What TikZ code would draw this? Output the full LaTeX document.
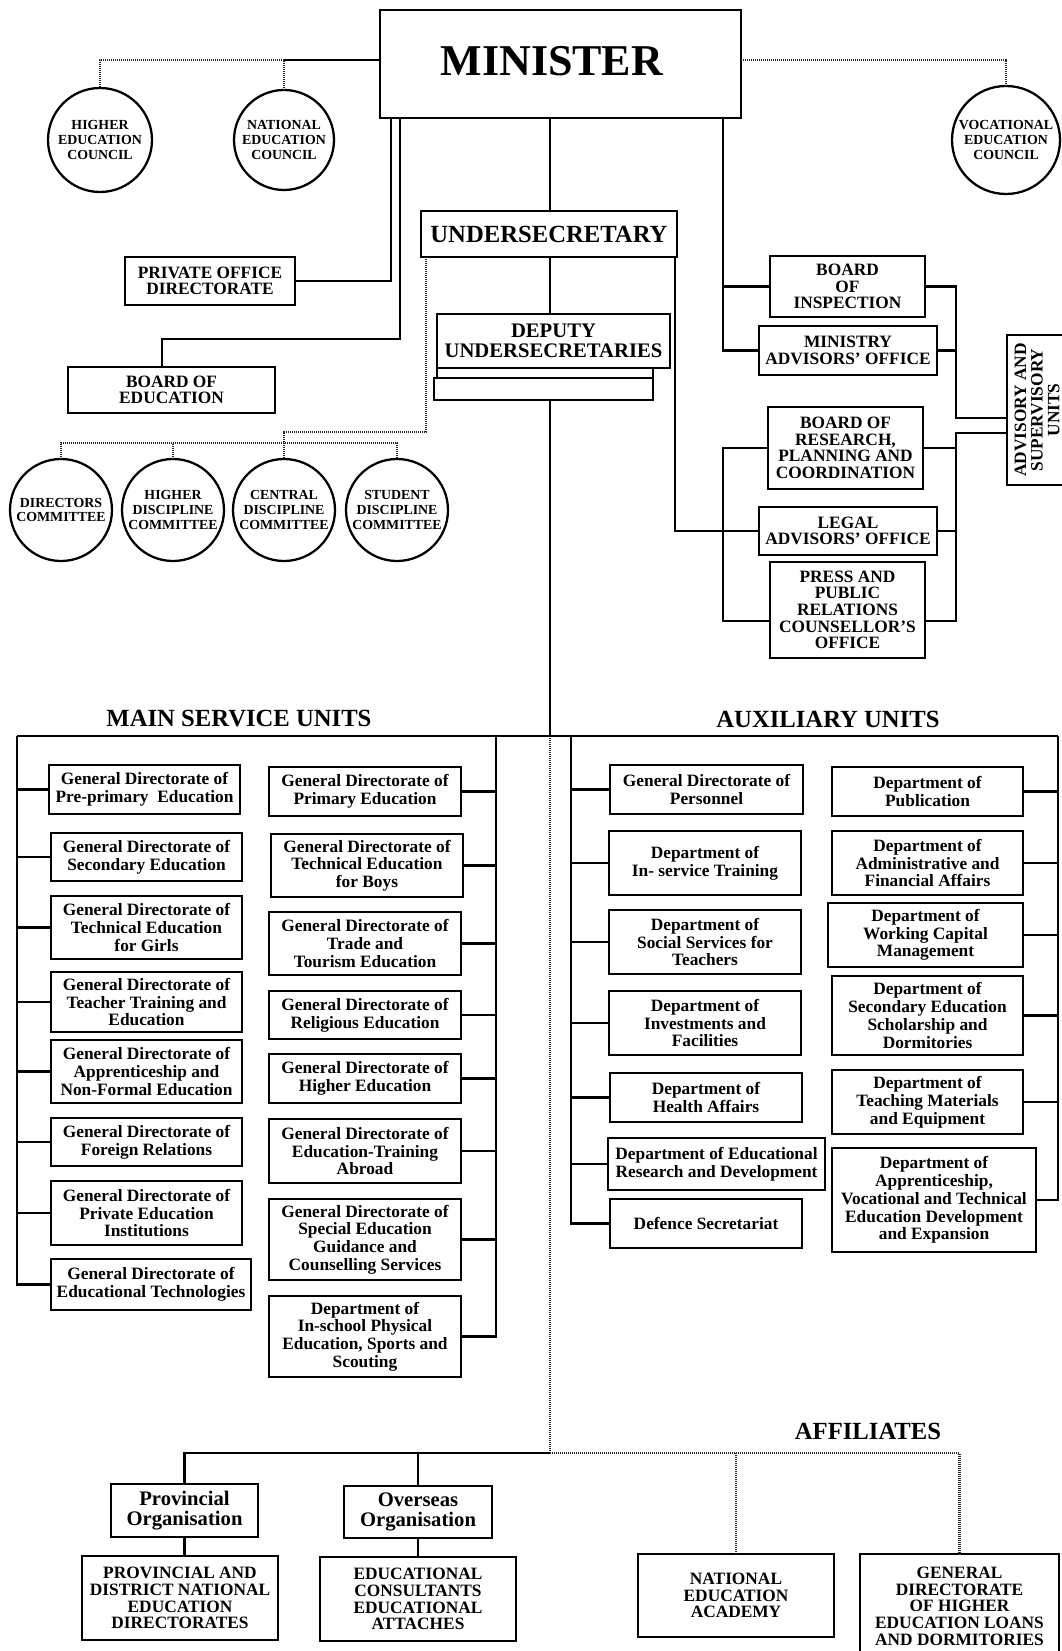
\documentclass[tikz,border=0pt]{standalone}
\usepackage{fontspec}
\setmainfont{Liberation Serif}
\newcommand\B[7][]{\node[box,#1,minimum width={(#5-#3)*0.75pt},minimum height={(#6-#4)*0.75pt}] (#2) at ({(#3+#5)/2},{(#4+#6)/2}) {#7};}
\newcommand\CircNode[5]{\node[circ,minimum size={2*#4*0.75pt}] (#1) at (#2,#3) {#5};}
\begin{document}
\begin{tikzpicture}[x=0.75pt,y=-0.75pt,
  box/.style={draw,line width=2.1pt,inner sep=0pt,outer sep=0pt,align=center,font=\bfseries\fontsize{13}{13.3}\selectfont},
  capbox/.style={font=\bfseries\fontsize{13}{12.5}\selectfont},
  circ/.style={draw,circle,line width=1.7pt,inner sep=0pt,outer sep=0pt,align=center,font=\bfseries\fontsize{10.4}{11}\selectfont},
  head/.style={font=\bfseries\fontsize{18.5}{20}\selectfont,inner sep=0pt},
  conn/.style={line width=1.7pt},
  dotl/.style={line width=1.8pt,dash pattern=on 0.8pt off 0.7pt,black!85}]
\useasboundingbox (0,0) rectangle (1062,1651);

% ---------- top ----------
\B[font=\bfseries\fontsize{33}{36}\selectfont]{minister}{380}{10}{741}{118}{\raisebox{4.5pt}{\hspace*{-13pt}MINISTER}}
\B[font=\bfseries\fontsize{18.5}{20}\selectfont]{under}{421}{211}{677}{257}{UNDERSECRETARY}
\B[font=\bfseries\fontsize{15.5}{15}\selectfont]{deputy}{437}{314}{670}{368}{DEPUTY\\UNDERSECRETARIES}
\B{deps1}{437}{368}{653}{378}{}
\B{deps2}{434}{378}{653}{400}{}

\CircNode{highedu}{100}{140}{52}{HIGHER\\EDUCATION\\COUNCIL}
\CircNode{natedu}{284}{140}{50}{NATIONAL\\EDUCATION\\COUNCIL}
\CircNode{voc}{1006}{140}{54}{VOCATIONAL\\EDUCATION\\COUNCIL}

\B[capbox]{privoff}{125}{257}{295}{305}{PRIVATE OFFICE\\DIRECTORATE}
\B[capbox]{boardedu}{68}{367}{275}{413}{BOARD OF\\EDUCATION}

\CircNode{directors}{61}{510}{51}{DIRECTORS\\COMMITTEE}
\CircNode{higherd}{173}{510}{51}{HIGHER\\DISCIPLINE\\COMMITTEE}
\CircNode{central}{284}{510}{51}{CENTRAL\\DISCIPLINE\\COMMITTEE}
\CircNode{student}{397}{510}{51}{STUDENT\\DISCIPLINE\\COMMITTEE}

% right group
\B[capbox]{binsp}{770}{256}{925}{317}{BOARD\\OF\\INSPECTION}
\B[capbox]{madv}{759}{326}{937}{375}{MINISTRY\\ADVISORS' OFFICE}
\B[capbox]{bres}{768}{407}{923}{489}{BOARD OF\\RESEARCH,\\PLANNING AND\\COORDINATION}
\B[capbox]{legal}{759}{507}{937}{555}{LEGAL\\ADVISORS' OFFICE}
\B[capbox]{press}{770}{562}{925}{658}{PRESS AND\\PUBLIC\\RELATIONS\\COUNSELLOR'S\\OFFICE}
\node[box,capbox,rotate=90,minimum width={150*0.75pt},minimum height={60*0.75pt}] (advisory) at (1037,410) {ADVISORY AND\\SUPERVISORY\\UNITS};

% headings
\node[head] (hmain) at (239,719) {MAIN SERVICE UNITS};
\node[head] (haux) at (828,719) {AUXILIARY UNITS};
\node[head] (haff) at (868,1431) {AFFILIATES};

% ---------- main service units ----------
\B{pre}{49}{765}{240}{814}{General Directorate of\\Pre-primary\ \ Education}
\B{sec}{51}{833}{242}{881}{General Directorate of\\Secondary Education}
\B{techg}{51}{896}{242}{959}{General Directorate of\\Technical Education\\for Girls}
\B{teach}{51}{972}{242}{1032}{General Directorate of\\Teacher Training and\\Education}
\B{appr}{51}{1040}{242}{1103}{General Directorate of\\Apprenticeship and\\Non-Formal Education}
\B{foreign}{51}{1118}{242}{1166}{General Directorate of\\Foreign Relations}
\B{privedu}{51}{1181}{242}{1245}{General Directorate of\\Private Education\\Institutions}
\B{edtech}{51}{1259}{251}{1310}{General Directorate of\\Educational Technologies}

\B{prim}{269}{767}{461}{816}{General Directorate of\\Primary Education}
\B{techb}{271}{834}{463}{897}{General Directorate of\\Technical Education\\for Boys}
\B{trade}{269}{912}{461}{975}{General Directorate of\\Trade and\\Tourism Education}
\B{relig}{269}{991}{461}{1039}{General Directorate of\\Religious Education}
\B{higher}{269}{1054}{461}{1103}{General Directorate of\\Higher Education}
\B{abroad}{269}{1119}{461}{1183}{General Directorate of\\Education-Training\\Abroad}
\B{special}{269}{1199}{461}{1280}{General Directorate of\\Special Education\\Guidance and\\Counselling Services}
\B{phys}{269}{1296}{461}{1377}{Department of\\In-school Physical\\Education, Sports and\\Scouting}

% ---------- auxiliary units ----------
\B{pers}{610}{765}{803}{814}{General Directorate of\\Personnel}
\B{inserv}{609}{831}{801}{895}{Department of\\In- service Training}
\B{social}{609}{910}{801}{974}{Department of\\Social Services for\\Teachers}
\B{invest}{609}{991}{801}{1055}{Department of\\Investments and\\Facilities}
\B{health}{610}{1073}{802}{1122}{Department of\\Health Affairs}
\B{edres}{608}{1138}{825}{1190}{Department of Educational\\Research and Development}
\B{defence}{610}{1199}{802}{1248}{Defence Secretariat}

\B{publ}{832}{767}{1023}{816}{Department of\\Publication}
\B{admin}{832}{831}{1023}{895}{Department of\\Administrative and\\Financial Affairs}
\B{workcap}{828}{903}{1023}{967}{Department of\\Working Capital\\Management}
\B{scholar}{832}{976}{1023}{1055}{Department of\\Secondary Education\\Scholarship and\\Dormitories}
\B{teachmat}{832}{1070}{1023}{1134}{Department of\\Teaching Materials\\and Equipment}
\B{appdev}{832}{1148}{1036}{1252}{Department of\\Apprenticeship,\\Vocational and Technical\\Education Development\\and Expansion}

% ---------- bottom ----------
\B[font=\bfseries\fontsize{15.5}{15.5}\selectfont]{prov}{111}{1484}{258}{1537}{Provincial\\Organisation}
\B[font=\bfseries\fontsize{15.5}{15.5}\selectfont]{over}{344}{1486}{492}{1538}{Overseas\\Organisation}
\B[capbox]{provd}{82}{1556}{278}{1640}{PROVINCIAL AND\\DISTRICT NATIONAL\\EDUCATION\\DIRECTORATES}
\B[capbox]{edcons}{320}{1557}{516}{1641}{EDUCATIONAL\\CONSULTANTS\\EDUCATIONAL\\ATTACHES}
\B[capbox]{academy}{638}{1554}{834}{1637}{NATIONAL\\EDUCATION\\ACADEMY}
\B[capbox]{loans}{860}{1554}{1059}{1658}{GENERAL\\DIRECTORATE\\OF HIGHER\\EDUCATION LOANS\\AND DORMITORIES}

% ---------- connectors: top ----------
\coordinate (mw) at ([yshift=3pt]minister.west);
\coordinate (me) at ([yshift=3pt]minister.east);
\draw[conn] (mw) -- (mw -| natedu.north);
\draw[dotl] (natedu.north) -- (mw -| natedu.north) -- (mw -| highedu.north) -- (highedu.north);
\draw[dotl] (me) -| (voc.north);

\draw[conn] (minister.south -| 391,0) |- (privoff.east);
\draw[conn] (minister.south -| 400,0) -- (400,339) -| (boardedu.north -| 162,0);

\draw[conn] (minister.south -| 550,0) -- (under.north -| 550,0);
\draw[conn] (under.south -| 550,0) -- (deputy.north -| 550,0);
\draw[conn] (deps2.south -| 550,0) -- (550,736) coordinate (tj);
\draw[dotl] (tj) -- (550,1453) coordinate (bj);

% undersecretary -> committees
\draw[dotl] (under.south -| 426,0) -- (426,432) -- (central.north |- 0,432) -- (central.north);
\draw[dotl] (directors.north) -- (directors.north |- 0,443) -- (student.north |- 0,443) -- (student.north);
\draw[dotl] (higherd.north) -- (higherd.north |- 0,443);

% right group
\draw[conn] (minister.south -| 723,0) |- (madv.west);
\draw[conn] (binsp.west) -- (binsp.west -| 723,0);
\draw[conn] (binsp.east) -| (956,418) -- (advisory.north |- 0,418);
\draw[conn] (madv.east) -- (madv.east -| 956,0);
\draw[conn] (advisory.north |- 0,433) -- (956,433) |- ([yshift=-8pt]press.east);
\draw[conn] (bres.east) -- (bres.east -| 956,0);
\draw[conn] (legal.east) -- (legal.east -| 956,0);
\draw[conn] (bres.west) -- (bres.west -| 723,0) |- ([yshift=-8pt]press.west);
\draw[conn] (under.south -| 675,0) |- (legal.west);

% ---------- connectors: units ----------
\draw[conn] (17,736) coordinate (ml) -- (1058,736) coordinate (ar);
\coordinate (mr) at (496,736);
\coordinate (al) at (571,736);
\draw[conn] (ml) |- (edtech.west);
\foreach \n in {pre,sec,techg,teach,appr,foreign,privedu}
  \draw[conn] (\n.west) -- (\n.west -| ml);
\draw[conn] (mr) |- (phys.east);
\foreach \n in {prim,techb,trade,relig,higher,abroad,special}
  \draw[conn] (\n.east) -- (\n.east -| mr);
\draw[conn] (al) |- (defence.west);
\foreach \n in {pers,inserv,social,invest,health,edres}
  \draw[conn] (\n.west) -- (\n.west -| al);
\draw[conn] (ar) |- (appdev.east);
\foreach \n in {publ,admin,workcap,scholar,teachmat}
  \draw[conn] (\n.east) -- (\n.east -| ar);

% ---------- connectors: bottom ----------
\draw[conn] (bj) -| (prov.north);
\draw[conn] (over.north) -- (over.north |- bj);
\draw[conn] (prov.south) -- (prov.south |- provd.north);
\draw[conn] (over.south) -- (edcons.north);
\draw[dotl] (bj) -| (loans.north);
\draw[dotl] (academy.north) -- (academy.north |- bj);
\end{tikzpicture}
\end{document}
